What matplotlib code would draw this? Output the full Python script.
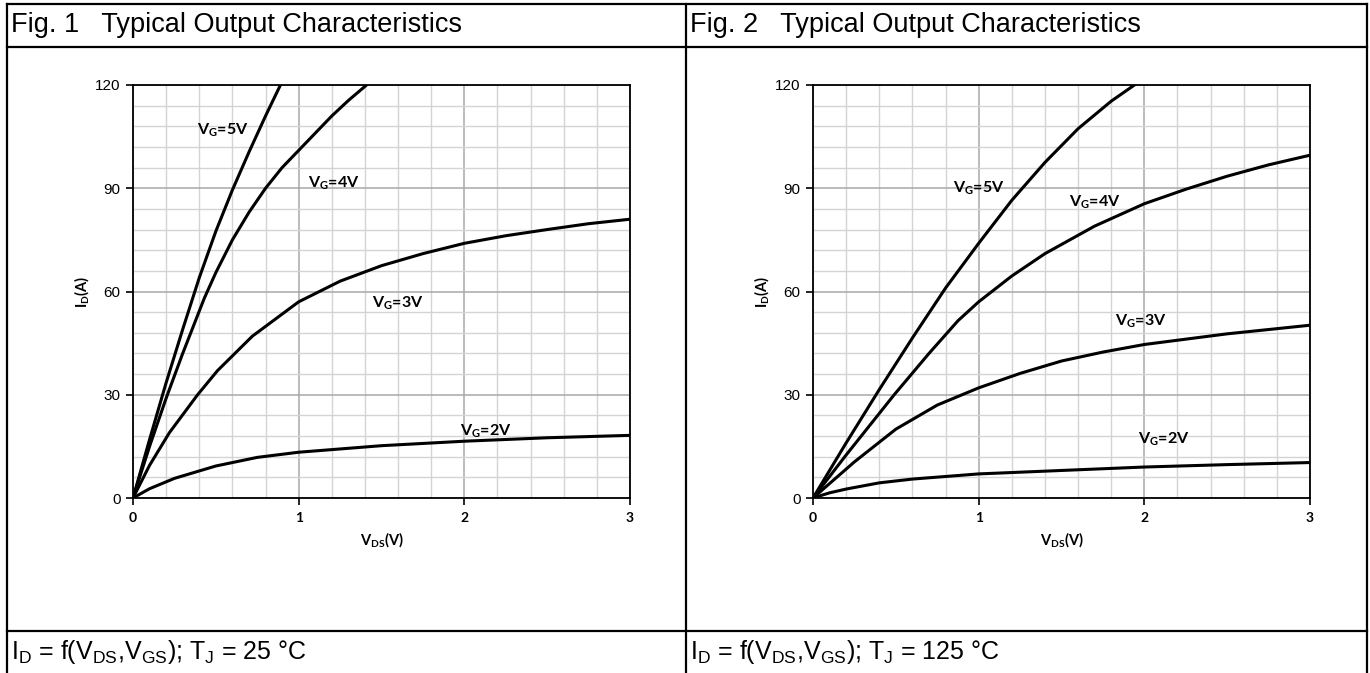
import matplotlib
matplotlib.use('Agg')
import matplotlib.pyplot as plt
from matplotlib.lines import Line2D
from matplotlib.ticker import MultipleLocator

# ---- data ----
# Fig. 1, Tj = 25 C
v5_25 = [0, 0.1, 0.2, 0.3, 0.4, 0.5, 0.6, 0.7, 0.8, 0.89]
i5_25 = [0, 17, 33.5, 49, 64, 77.5, 89.5, 100.5, 111, 120]
v4_25 = [0, 0.1, 0.2, 0.3, 0.43, 0.5, 0.6, 0.7, 0.8, 0.9, 1.0, 1.1, 1.2, 1.3, 1.41]
i4_25 = [0, 15, 29, 42, 58, 65.5, 75, 83, 90, 96, 101, 106, 111, 115.5, 120]
v3_25 = [0, 0.1, 0.22, 0.39, 0.51, 0.72, 1.0, 1.25, 1.5, 1.75, 2.0, 2.25, 2.5, 2.75, 3.0]
i3_25 = [0, 9.5, 19, 30, 37, 47, 57, 63, 67.5, 71, 74, 76.2, 78, 79.7, 81]
v2_25 = [0, 0.1, 0.25, 0.5, 0.75, 1.0, 1.5, 2.0, 2.5, 3.0]
i2_25 = [0, 2.7, 5.7, 9.3, 11.8, 13.3, 15.2, 16.5, 17.5, 18.2]

# Fig. 2, Tj = 125 C
v5_125 = [0, 0.2, 0.4, 0.6, 0.8, 1.0, 1.2, 1.4, 1.6, 1.8, 1.97]
i5_125 = [0, 16, 31.5, 46.5, 61, 74, 86.5, 97.5, 107.3, 115.3, 121]
v4_125 = [0, 0.2, 0.49, 0.7, 0.875, 1.0, 1.2, 1.4, 1.7, 2.0, 2.25, 2.5, 2.75, 3.0]
i4_125 = [0, 12.5, 30, 42, 51.5, 57, 64.5, 71, 79, 85.5, 89.7, 93.5, 96.8, 99.6]
v3_125 = [0, 0.25, 0.5, 0.75, 1.0, 1.25, 1.5, 1.75, 2.0, 2.5, 3.0]
i3_125 = [0, 10.5, 20, 27, 32, 36.2, 39.8, 42.4, 44.6, 47.7, 50.2]
v2_125 = [0, 0.1, 0.2, 0.4, 0.6, 1.0, 1.5, 2.0, 2.5, 3.0]
i2_125 = [0, 1.5, 2.6, 4.4, 5.5, 7.0, 8.0, 9.0, 9.7, 10.3]

gate_labels = ['5V', '4V', '3V', '2V']
# where the V_G labels sit (data coords)
label_pos_25 = [(0.54, 107), (1.21, 91.4), (1.6, 56.5), (2.13, 19.5)]
label_pos_125 = [(1.0, 90), (1.7, 86), (1.98, 51.3), (2.12, 17)]

titles = ['Fig. 1   Typical Output Characteristics',
          'Fig. 2   Typical Output Characteristics']
footers = [r'I$_\mathregular{D}$ = f(V$_\mathregular{DS}$,V$_\mathregular{GS}$); T$_\mathregular{J}$ = 25 °C',
           r'I$_\mathregular{D}$ = f(V$_\mathregular{DS}$,V$_\mathregular{GS}$); T$_\mathregular{J}$ = 125 °C']

W, H = 1370, 673
fig = plt.figure(figsize=(W / 100, H / 100), dpi=100)
fig.patch.set_facecolor('white')


def hline(y, x0, x1):
    fig.add_artist(Line2D([x0 / W, x1 / W], [1 - y / H, 1 - y / H],
                          transform=fig.transFigure, color='black', lw=1.6))


def vline(x, y0, y1):
    fig.add_artist(Line2D([x / W, x / W], [1 - y0 / H, 1 - y1 / H],
                          transform=fig.transFigure, color='black', lw=1.6))


# table frame
hline(4, 7, 1367)
hline(47, 7, 1367)
hline(631, 7, 1367)
vline(7, 4, 673)
vline(686, 4, 673)
vline(1367, 4, 673)

for k, x0 in enumerate([11, 690]):
    fig.text(x0 / W, 1 - 25 / H, titles[k], family='Liberation Sans',
             fontsize=19.5, va='center', ha='left')
    fig.text(x0 / W, 1 - 652 / H, footers[k], family='Liberation Sans',
             fontsize=18, va='center', ha='left')

panels = [
    (133, [(v5_25, i5_25), (v4_25, i4_25), (v3_25, i3_25), (v2_25, i2_25)], label_pos_25),
    (813, [(v5_125, i5_125), (v4_125, i4_125), (v3_125, i3_125), (v2_125, i2_125)], label_pos_125),
]

for left, curves, lpos in panels:
    ax = fig.add_axes([left / W, 1 - 498 / H, 497 / W, 413 / H])
    ax.set_xlim(0, 3)
    ax.set_ylim(0, 120)
    ax.xaxis.set_major_locator(MultipleLocator(1))
    ax.xaxis.set_minor_locator(MultipleLocator(0.2))
    ax.yaxis.set_major_locator(MultipleLocator(30))
    ax.yaxis.set_minor_locator(MultipleLocator(6))
    ax.grid(which='minor', color='#d4d4d4', lw=1.0)
    ax.grid(which='major', color='#a8a8a8', lw=1.1)
    ax.set_axisbelow(True)
    ax.tick_params(which='minor', length=0)
    ax.tick_params(which='major', length=5, width=1.2, color='black', direction='out')
    for s in ax.spines.values():
        s.set_color('black')
        s.set_linewidth(1.3)

    for (v, i) in curves:
        ax.plot(v, i, color='black', lw=2.2, solid_joinstyle='round', clip_on=True)

    for name, (lx, ly) in zip(gate_labels, lpos):
        ax.text(lx, ly, r'V$_\mathregular{G}$=' + name, family='Lato', fontweight='bold',
                fontsize=11.5, ha='center', va='center')

    for t in ax.get_yticklabels():
        t.set_family('Liberation Sans')
        t.set_fontsize(11)
    for t in ax.get_xticklabels():
        t.set_family('Lato')
        t.set_fontweight('bold')
        t.set_fontsize(10)
    ax.tick_params(axis='y', pad=4)
    ax.tick_params(axis='x', pad=5)

    ax.set_xlabel(r'V$_\mathregular{DS}$(V)', family='Lato', fontweight='bold',
                  fontsize=10.5, labelpad=5)
    ax.set_ylabel(r'I$_\mathregular{D}$(A)', family='Lato', fontweight='bold',
                  fontsize=10.5)
    ax.yaxis.set_label_coords(-0.083, 0.5)

fig.savefig('out.png', dpi=100, facecolor='white')
